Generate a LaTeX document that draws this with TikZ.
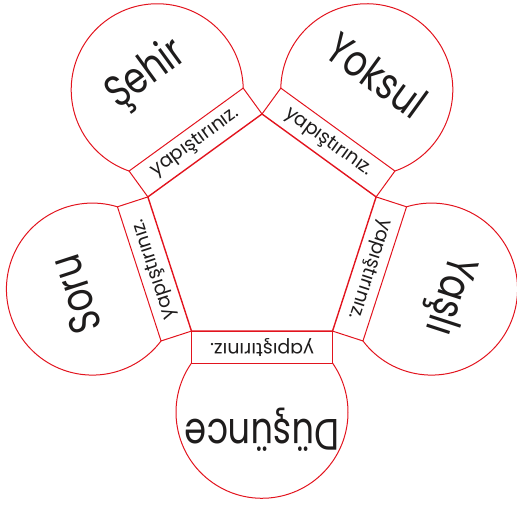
\documentclass[tikz,border=0pt]{standalone}
\usepackage{fontspec}
\setmainfont{Poppins}
\newfontfamily\wordfont{Poppins}[FakeStretch=0.8]
\usetikzlibrary{calc}
\definecolor{cutred}{RGB}{226,20,30}
\definecolor{ink}{RGB}{30,28,28}
\begin{document}
\begin{tikzpicture}[x=1pt,y=1pt,
  tabline/.style={draw=cutred, line width=1pt, line join=miter},
  pentline/.style={draw=cutred, line width=1.4pt, line join=miter},
  wordtext/.style={text=ink, inner sep=0pt, font=\wordfont\fontsize{44}{44}\selectfont},
  tabtext/.style={text=ink, inner sep=0pt, font=\fontsize{19}{19}\selectfont}]
\useasboundingbox (0,0) rectangle (517,505);
\coordinate (O) at (262,271);
\def\ap{97.08}\def\hs{70.53}\def\tabd{32}\def\rr{86}\def\DD{178.3}\def\bet{55.1}
\foreach \th/\w/\n in {126/Şehir/a, 54/Yoksul/b, -18/Yaşlı/c, -90/Düşünce/d, 198/Soru/e} {
  \coordinate (i1\n) at ($(O)+(\th:\ap)+(\th-90:\hs)$);
  \coordinate (i2\n) at ($(O)+(\th:\ap)+(\th+90:\hs)$);
  \coordinate (o1\n) at ($(O)+(\th:\ap+\tabd)+(\th-90:\hs)$);
  \coordinate (o2\n) at ($(O)+(\th:\ap+\tabd)+(\th+90:\hs)$);
  \draw[tabline] (i1\n) -- (o1\n) -- (o2\n) -- (i2\n);
  \draw[tabline] (o1\n) arc[start angle=\th-180+\bet, end angle=\th+180-\bet, radius=\rr];
  \node[wordtext, rotate=\th-90] (w\n) at ($(O)+(\th:196)$) {\w};
  \node[tabtext, rotate=\th-90] (t\n) at ($(O)+(\th:\ap+\tabd/2)$) {yapıştırınız.};
}
\coordinate (p1) at ($(O)+(90:120)$);
\coordinate (p2) at ($(O)+(162:120)$);
\coordinate (p3) at ($(O)+(234:120)$);
\coordinate (p4) at ($(O)+(306:120)$);
\coordinate (p5) at ($(O)+(18:120)$);
\draw[pentline] (p1) -- (p2) -- (p3) -- (p4) -- (p5) -- cycle;
\end{tikzpicture}
\end{document}
